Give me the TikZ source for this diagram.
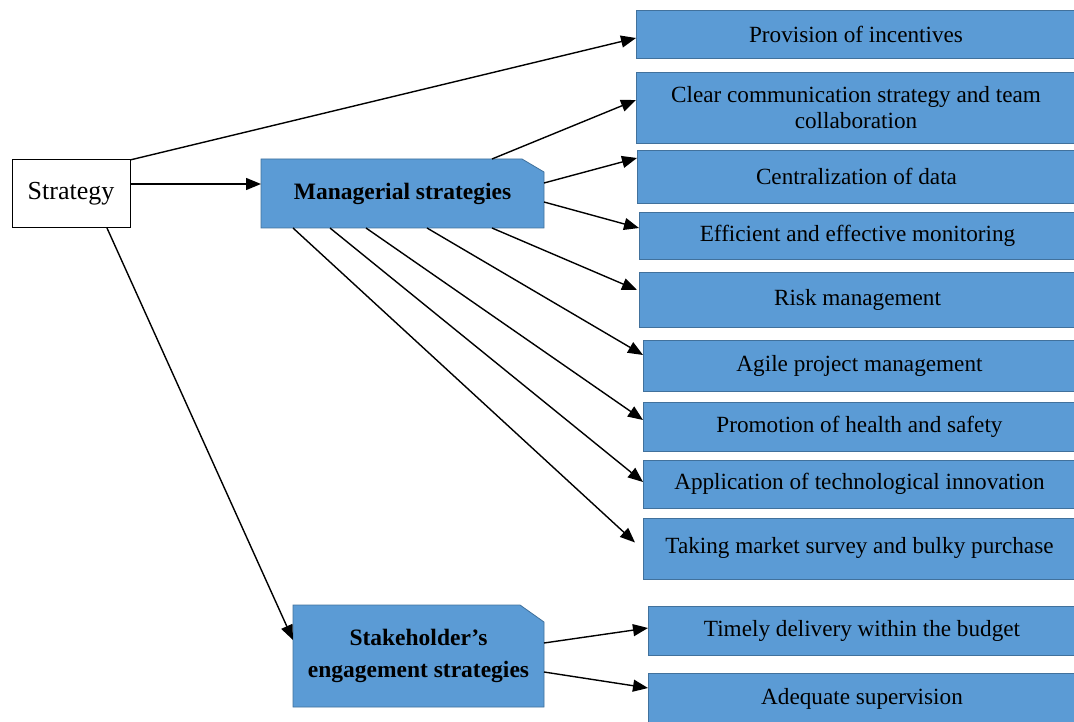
\documentclass[tikz,border=0pt]{standalone}
\usepackage{fontspec}
\setmainfont{Liberation Serif}
\usetikzlibrary{arrows.meta,calc,backgrounds}
\definecolor{boxblue}{RGB}{91,155,213}
\definecolor{boxline}{RGB}{65,113,156}
\tikzset{
  rbox/.style={draw=boxline, fill=boxblue, line width=0.8pt, anchor=west, align=center,
    inner sep=0pt, outer sep=0pt, font=\fontsize{23.2}{26}\selectfont},
  snipbox/.style={draw=none, align=center, inner sep=0pt, outer sep=0pt,
    font=\fontsize{23.5}{32}\selectfont\bfseries},
  snipfill/.style={fill=boxblue, draw=boxline, line width=0.8pt},
  arr/.style={-{Triangle[length=15pt,width=12pt]}, line width=1.4pt},
}
\begin{document}
\begin{tikzpicture}[x=1pt,y=-1pt]
\useasboundingbox (0,0) rectangle (1074,722);

% Strategy
\node[draw, line width=1pt, fill=white, inner sep=0pt, outer sep=0pt,
      minimum width=118pt, minimum height=68pt, font=\fontsize{26}{30}\selectfont]
      (strat) at (71,194) {\raisebox{5pt}{Strategy}};

% main strategy groups
\node[snipbox, minimum width=283pt, minimum height=69pt] (man) at (402.5,193.5) {Managerial strategies};
\node[snipbox, minimum width=251pt, minimum height=102pt] (stake) at (418.5,656) {Stakeholder’s\\engagement strategies};
\begin{scope}[on background layer]
  \draw[snipfill] (man.south west) -- (man.north west) -- ($(man.north east)+(-22,0)$)
     -- ($(man.north east)+(0,13)$) -- (man.south east) -- cycle;
  \draw[snipfill] (stake.south west) -- (stake.north west) -- ($(stake.north east)+(-24,0)$)
     -- ($(stake.north east)+(0,17)$) -- (stake.south east) -- cycle;
\end{scope}

% right boxes
\node[rbox, minimum width=440pt, minimum height=48pt] (r1) at (636,34) {Provision of incentives};
\node[rbox, minimum width=440pt, minimum height=71pt] (r2) at (636,107.5) {Clear communication strategy and team\\collaboration};
\node[rbox, minimum width=439pt, minimum height=53pt] (r3) at (637,176.5) {Centralization of data};
\node[rbox, minimum width=437pt, minimum height=47pt] (r4) at (639,235.5) {Efficient and effective monitoring};
\node[rbox, minimum width=437pt, minimum height=55pt] (r5) at (639,299.5) {Risk management};
\node[rbox, minimum width=433pt, minimum height=51pt] (r6) at (643,365.5) {Agile project management};
\node[rbox, minimum width=433pt, minimum height=49pt] (r7) at (643,426.5) {Promotion of health and safety};
\node[rbox, minimum width=433pt, minimum height=48pt] (r8) at (643,484) {Application of technological innovation};
\node[rbox, minimum width=433pt, minimum height=61pt] (r9) at (643,548.5) {\raisebox{6pt}{Taking market survey and bulky purchase}};
\node[rbox, minimum width=428pt, minimum height=49pt] (r10) at (648,630.5) {Timely delivery within the budget};
\node[rbox, minimum width=428pt, minimum height=52pt] (r11) at (648,699) {Adequate supervision};

% connectors
\draw[arr] (strat.north east) -- ($(r1.west)+(0,4)$);
\draw[arr] ($(strat.east)+(0,-10)$) -- ($(man.west)+(0,-9.5)$);
\draw[arr] ($(strat.south east)+(-23,0)$) -- ($(stake.west)+(0,-16)$);

\draw[arr] ($(man.north east)+(-52,0)$) -- ($(r2.west)+(0,-7.5)$);
\draw[arr] ($(man.east)+(0,-10.5)$) -- ($(r3.west)+(0,-18.5)$);
\draw[arr] ($(man.east)+(0,8.5)$) -- ($(r4.west)+(0,-7.5)$);
\draw[arr] ($(man.south west)+(231,0)$) -- ($(r5.west)+(-2,-9.5)$);
\draw[arr] ($(man.south west)+(166,0)$) -- ($(r6.west)+(0,-10.5)$);
\draw[arr] ($(man.south west)+(105,0)$) -- ($(r7.west)+(0,-6.5)$);
\draw[arr] ($(man.south west)+(69,0)$) -- ($(r8.west)+(0,-2)$);
\draw[arr] ($(man.south west)+(32,0)$) -- ($(r9.west)+(-8,-6)$);

\draw[arr] ($(stake.east)+(0,-13)$) -- ($(r10.west)+(0,-2.5)$);
\draw[arr] ($(stake.east)+(0,16)$) -- ($(r11.west)+(0,-11)$);
\end{tikzpicture}
\end{document}
